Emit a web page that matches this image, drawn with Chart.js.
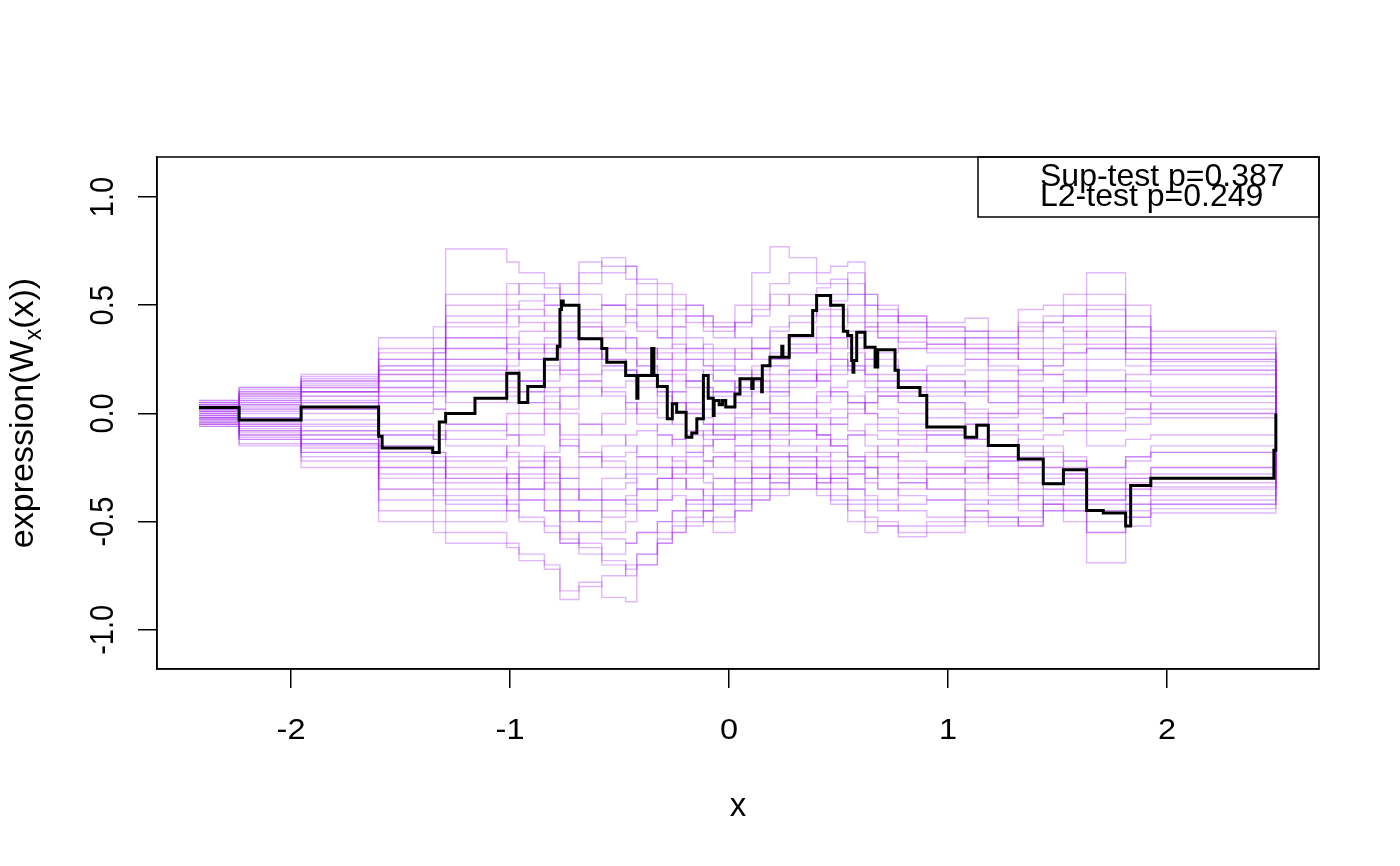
<!DOCTYPE html>
<html>
<head>
<meta charset="utf-8">
<script src="https://cdn.jsdelivr.net/npm/chart.js@4/dist/chart.umd.min.js"></script>
<style>
html,body{margin:0;padding:0;background:#fff;}
#wrap{width:1400px;height:866px;position:relative;}
canvas{display:block;}
</style>
</head>
<body>
<div id="wrap"><canvas id="c" width="1400" height="866"></canvas></div>
<script>
// ---------- data ----------
const X_TICKS = [-2, -1, 0, 1, 2];
const X_TICK_LABELS = ['-2', '-1', '0', '1', '2'];
const Y_TICKS = [-1, -0.5, 0, 0.5, 1];
const Y_TICK_LABELS = ['-1.0', '-0.5', '0.0', '0.5', '1.0'];
const X_TITLE = 'x';
const Y_TITLE_MAIN = 'expression(W';
const Y_TITLE_SUB = 'x';
const Y_TITLE_END = '(x))';
const LEGEND_LINES = ['Sup-test p=0.387', 'L2-test p=0.249'];

// observed process (black step line): jump locations and values
const BLACK_X = [-2.420,-2.237,-1.954,-1.600,-1.584,-1.353,-1.323,-1.294,-1.160,-1.015,-0.959,-0.919,-0.843,-0.784,-0.772,-0.765,-0.757,-0.685,-0.581,-0.558,-0.472,-0.421,-0.416,-0.353,-0.343,-0.327,-0.282,-0.259,-0.239,-0.196,-0.170,-0.147,-0.117,-0.095,-0.072,-0.068,-0.045,-0.030,-0.015,0.027,0.050,0.104,0.110,0.149,0.152,0.187,0.241,0.246,0.275,0.382,0.400,0.464,0.522,0.542,0.560,0.566,0.570,0.583,0.621,0.667,0.679,0.758,0.773,0.872,0.903,1.078,1.131,1.184,1.321,1.435,1.527,1.633,1.709,1.811,1.834,1.926,2.488,2.497];
const BLACK_Y = [0.027,-0.030,0.030,-0.106,-0.160,-0.180,-0.040,0.000,0.070,0.186,0.050,0.125,0.250,0.310,0.480,0.520,0.500,0.345,0.300,0.237,0.175,0.070,0.175,0.300,0.175,0.125,-0.025,0.045,0.006,-0.110,-0.090,-0.025,0.175,0.070,-0.010,0.060,0.040,0.060,0.030,0.090,0.160,0.115,0.160,0.100,0.220,0.260,0.310,0.260,0.360,0.476,0.545,0.500,0.380,0.360,0.245,0.190,0.245,0.375,0.306,0.214,0.294,0.200,0.120,0.083,-0.063,-0.110,-0.055,-0.148,-0.210,-0.325,-0.260,-0.448,-0.460,-0.520,-0.333,-0.300,-0.170,0.000];

// simulated processes (purple): shared jump locations and per-path values
const SIM_X = [-2.420,-2.237,-1.954,-1.600,-1.350,-1.294,-1.015,-0.959,-0.843,-0.772,-0.685,-0.581,-0.472,-0.421,-0.327,-0.259,-0.196,-0.117,-0.072,0.027,0.104,0.187,0.275,0.400,0.464,0.542,0.621,0.679,0.773,0.903,1.078,1.184,1.321,1.435,1.527,1.633,1.811,1.926,2.490];
const SIM_END_X = 2.497;
const SIM_END_Y = 0;
const SIM_01 = [0.05,0.10,0.18,0.35,0.40,0.76,0.70,0.65,0.60,0.55,0.70,0.68,0.62,0.55,0.50,0.45,0.42,0.38,0.35,0.40,0.48,0.55,0.50,0.45,0.48,0.42,0.38,0.35,0.33,0.30,0.28,0.25,0.30,0.35,0.40,0.45,0.35,0.28];
const SIM_02 = [-0.06,-0.15,-0.25,-0.50,-0.55,-0.60,-0.62,-0.68,-0.70,-0.82,-0.78,-0.85,-0.87,-0.70,-0.58,-0.55,-0.52,-0.50,-0.48,-0.42,-0.38,-0.35,-0.30,-0.35,-0.40,-0.45,-0.48,-0.50,-0.52,-0.50,-0.45,-0.48,-0.50,-0.42,-0.45,-0.55,-0.48,-0.42];
const SIM_03 = [0.02,0.05,0.10,0.20,0.22,0.30,0.35,0.32,0.28,0.25,0.40,0.45,0.42,0.38,0.35,0.40,0.45,0.42,0.40,0.50,0.65,0.77,0.72,0.65,0.68,0.70,0.55,0.50,0.45,0.40,0.38,0.35,0.42,0.45,0.50,0.55,0.45,0.35];
const SIM_04 = [-0.03,-0.08,-0.12,-0.20,-0.25,-0.30,-0.28,-0.35,-0.32,-0.40,-0.35,-0.30,-0.28,-0.25,-0.20,-0.22,-0.25,-0.28,-0.30,-0.32,-0.30,-0.28,-0.25,-0.30,-0.35,-0.42,-0.50,-0.52,-0.55,-0.52,-0.48,-0.50,-0.52,-0.45,-0.50,-0.69,-0.52,-0.46];
const SIM_05 = [0.04,0.08,0.12,0.15,0.18,0.25,0.20,0.15,0.10,0.12,0.18,0.22,0.20,0.18,0.15,0.20,0.25,0.22,0.20,0.18,0.22,0.25,0.28,0.30,0.35,0.38,0.40,0.42,0.45,0.42,0.44,0.38,0.48,0.50,0.55,0.65,0.50,0.38];
const SIM_06 = [-0.02,-0.05,-0.10,-0.30,-0.35,-0.40,-0.45,-0.50,-0.55,-0.60,-0.55,-0.58,-0.60,-0.55,-0.50,-0.45,-0.40,-0.42,-0.38,-0.35,-0.30,-0.25,-0.28,-0.32,-0.30,-0.35,-0.38,-0.40,-0.35,-0.30,-0.32,-0.28,-0.25,-0.30,-0.28,-0.35,-0.30,-0.25];
const SIM_07 = [0.06,0.12,0.15,0.30,0.35,0.50,0.55,0.60,0.58,0.50,0.55,0.50,0.48,0.45,0.40,0.35,0.30,0.28,0.25,0.30,0.35,0.40,0.42,0.48,0.52,0.55,0.50,0.45,0.40,0.35,0.30,0.28,0.25,0.22,0.28,0.30,0.25,0.20];
const SIM_08 = [-0.05,-0.10,-0.18,-0.35,-0.40,-0.45,-0.40,-0.35,-0.30,-0.45,-0.50,-0.55,-0.50,-0.45,-0.40,-0.35,-0.30,-0.25,-0.20,-0.15,-0.10,-0.05,-0.08,-0.12,-0.15,-0.20,-0.25,-0.30,-0.28,-0.25,-0.22,-0.30,-0.35,-0.32,-0.30,-0.40,-0.35,-0.30];
const SIM_09 = [0.01,0.03,0.05,0.10,0.12,0.20,0.25,0.30,0.35,0.28,0.30,0.25,0.20,0.18,0.15,0.10,0.05,0.02,0.00,0.05,0.10,0.12,0.15,0.18,0.20,0.22,0.18,0.15,0.12,0.10,0.08,0.05,0.10,0.12,0.15,0.20,0.15,0.12];
const SIM_10 = [-0.01,-0.02,-0.05,-0.08,-0.10,-0.15,-0.20,-0.25,-0.22,-0.30,-0.25,-0.20,-0.18,-0.15,-0.10,-0.12,-0.15,-0.10,-0.08,-0.05,0.00,0.05,0.02,-0.02,-0.05,-0.08,-0.10,-0.12,-0.15,-0.18,-0.20,-0.22,-0.18,-0.15,-0.20,-0.25,-0.22,-0.18];
const SIM_11 = [0.03,0.06,0.10,0.25,0.28,0.40,0.45,0.42,0.38,0.30,0.35,0.40,0.45,0.50,0.45,0.40,0.35,0.30,0.28,0.25,0.30,0.35,0.32,0.28,0.25,0.20,0.15,0.10,0.08,0.05,0.02,0.00,0.05,0.08,0.10,0.12,0.10,0.08];
const SIM_12 = [-0.04,-0.08,-0.15,-0.25,-0.30,-0.20,-0.15,-0.10,-0.05,-0.15,-0.20,-0.25,-0.30,-0.35,-0.30,-0.25,-0.28,-0.32,-0.35,-0.30,-0.25,-0.20,-0.18,-0.15,-0.12,-0.10,-0.05,-0.08,-0.10,-0.15,-0.12,-0.10,-0.15,-0.20,-0.25,-0.30,-0.28,-0.25];
const SIM_13 = [0.02,0.00,0.05,0.00,0.02,0.10,0.08,0.05,0.00,-0.10,-0.05,0.00,0.05,0.02,-0.02,-0.05,-0.10,-0.08,-0.05,0.00,0.05,0.10,0.15,0.20,0.25,0.22,0.18,0.15,0.20,0.22,0.25,0.20,0.18,0.22,0.25,0.30,0.25,0.22];
const SIM_14 = [-0.03,-0.12,-0.20,-0.45,-0.50,-0.55,-0.60,-0.65,-0.72,-0.86,-0.80,-0.75,-0.70,-0.65,-0.60,-0.55,-0.50,-0.45,-0.40,-0.35,-0.30,-0.25,-0.20,-0.25,-0.30,-0.28,-0.25,-0.20,-0.18,-0.15,-0.18,-0.20,-0.25,-0.28,-0.30,-0.35,-0.32,-0.30];
const SIM_15 = [0.05,0.09,0.14,0.20,0.25,0.35,0.40,0.45,0.50,0.55,0.60,0.65,0.68,0.62,0.60,0.55,0.50,0.45,0.42,0.35,0.30,0.25,0.30,0.35,0.40,0.45,0.40,0.35,0.30,0.28,0.25,0.22,0.20,0.18,0.15,0.10,0.12,0.10];
const SIM_16 = [-0.02,-0.06,-0.08,-0.15,-0.18,-0.25,-0.30,-0.35,-0.40,-0.50,-0.45,-0.40,-0.42,-0.45,-0.40,-0.38,-0.42,-0.45,-0.50,-0.45,-0.40,-0.38,-0.35,-0.38,-0.42,-0.50,-0.55,-0.52,-0.57,-0.55,-0.50,-0.52,-0.48,-0.42,-0.40,-0.45,-0.42,-0.38];
const SIM_17 = [0.00,0.02,0.08,0.12,0.15,0.10,0.05,0.10,0.15,0.20,0.15,0.10,0.05,0.00,0.05,0.10,0.15,0.20,0.15,0.10,0.05,0.00,-0.05,-0.10,-0.05,0.00,0.05,0.08,0.10,0.05,0.00,-0.05,-0.08,-0.05,0.00,0.05,0.02,0.00];
const SIM_18 = [-0.05,-0.12,-0.22,-0.35,-0.38,-0.42,-0.35,-0.30,-0.25,-0.35,-0.40,-0.48,-0.45,-0.40,-0.35,-0.30,-0.35,-0.40,-0.35,-0.30,-0.25,-0.20,-0.22,-0.25,-0.30,-0.35,-0.30,-0.25,-0.30,-0.35,-0.40,-0.42,-0.45,-0.40,-0.38,-0.45,-0.42,-0.40];
const SIM_19 = [0.04,0.10,0.15,0.22,0.25,0.45,0.50,0.48,0.45,0.42,0.48,0.50,0.45,0.40,0.35,0.30,0.25,0.22,0.20,0.25,0.30,0.38,0.45,0.50,0.55,0.60,0.50,0.45,0.42,0.38,0.35,0.30,0.35,0.40,0.38,0.35,0.30,0.25];
const SIM_20 = [0.01,-0.03,-0.06,-0.10,-0.12,-0.05,0.00,0.05,0.08,0.00,-0.05,-0.10,-0.15,-0.20,-0.25,-0.20,-0.18,-0.15,-0.12,-0.10,-0.08,-0.05,-0.02,0.00,0.02,0.05,0.00,-0.05,-0.08,-0.10,-0.12,-0.15,-0.12,-0.10,-0.08,-0.15,-0.12,-0.10];
const SIM_21 = [-0.06,-0.14,-0.18,-0.40,-0.45,-0.50,-0.45,-0.40,-0.45,-0.60,-0.65,-0.70,-0.75,-0.70,-0.55,-0.50,-0.45,-0.50,-0.55,-0.45,-0.40,-0.35,-0.30,-0.35,-0.38,-0.40,-0.42,-0.45,-0.42,-0.40,-0.45,-0.48,-0.52,-0.45,-0.42,-0.50,-0.45,-0.42];
const SIM_22 = [0.03,0.07,0.12,0.18,0.20,0.30,0.28,0.25,0.30,0.35,0.45,0.50,0.55,0.50,0.45,0.48,0.50,0.45,0.40,0.42,0.50,0.60,0.65,0.60,0.62,0.55,0.45,0.40,0.38,0.35,0.32,0.30,0.28,0.30,0.35,0.40,0.32,0.28];
const SIM_23 = [-0.01,0.02,0.00,-0.05,-0.08,-0.12,-0.10,-0.15,-0.20,-0.25,-0.20,-0.15,-0.10,-0.08,-0.05,0.00,0.05,0.08,0.10,0.12,0.15,0.18,0.20,0.15,0.10,0.05,0.00,-0.02,-0.05,-0.08,-0.05,-0.02,0.00,0.05,0.08,0.10,0.05,0.02];
const SIM_24 = [0.02,0.04,0.06,0.08,0.10,0.05,0.10,0.15,0.12,0.08,0.15,0.20,0.25,0.22,0.18,0.15,0.12,0.10,0.08,0.05,0.02,0.00,0.05,0.10,0.08,0.05,0.10,0.12,0.15,0.18,0.20,0.15,0.12,0.10,0.05,0.00,0.02,0.05];
const SIM_25 = [-0.04,-0.09,-0.14,-0.18,-0.20,-0.30,-0.35,-0.40,-0.45,-0.55,-0.60,-0.65,-0.60,-0.55,-0.50,-0.45,-0.40,-0.35,-0.30,-0.25,-0.20,-0.15,-0.12,-0.10,-0.15,-0.20,-0.18,-0.15,-0.12,-0.10,-0.15,-0.20,-0.22,-0.25,-0.28,-0.32,-0.30,-0.28];
const SIM_26 = [0.06,0.11,0.17,0.28,0.30,0.55,0.60,0.55,0.50,0.45,0.40,0.35,0.30,0.28,0.25,0.20,0.15,0.12,0.10,0.08,0.12,0.15,0.20,0.25,0.30,0.35,0.30,0.25,0.20,0.15,0.10,0.05,0.08,0.10,0.12,0.15,0.18,0.20];
const SIM_27 = [-0.02,-0.04,-0.03,-0.10,-0.12,-0.08,-0.05,0.00,-0.05,-0.15,-0.10,-0.05,0.00,0.05,0.10,0.05,0.00,-0.05,-0.10,-0.15,-0.12,-0.08,-0.05,-0.10,-0.15,-0.10,-0.15,-0.20,-0.25,-0.28,-0.25,-0.30,-0.28,-0.25,-0.22,-0.28,-0.20,-0.15];
const SIM_28 = [0.03,0.01,0.02,0.05,0.08,0.15,0.12,0.20,0.25,0.20,0.25,0.30,0.35,0.30,0.25,0.28,0.30,0.32,0.30,0.28,0.25,0.22,0.18,0.15,0.18,0.20,0.25,0.28,0.30,0.32,0.35,0.32,0.38,0.42,0.45,0.50,0.40,0.30];
const SIM_29 = [-0.03,-0.07,-0.10,-0.22,-0.25,-0.35,-0.30,-0.25,-0.20,-0.30,-0.35,-0.40,-0.38,-0.35,-0.30,-0.28,-0.25,-0.22,-0.20,-0.18,-0.15,-0.18,-0.20,-0.22,-0.25,-0.22,-0.20,-0.18,-0.22,-0.25,-0.28,-0.35,-0.38,-0.42,-0.45,-0.55,-0.48,-0.44];
const SIM_30 = [0.00,0.05,0.10,0.15,0.18,0.22,0.18,0.15,0.20,0.25,0.30,0.25,0.20,0.15,0.10,0.05,0.00,-0.05,-0.10,-0.08,-0.05,-0.02,0.00,0.05,0.10,0.08,0.05,0.02,0.00,-0.02,-0.05,-0.08,-0.05,-0.02,0.00,-0.05,-0.02,0.00];
const SIM_31 = [0.03,0.06,0.08,0.12,0.15,0.20,0.22,0.28,0.32,0.38,0.42,0.38,0.35,0.30,0.28,0.25,0.20,0.18,0.15,0.12,0.18,0.22,0.28,0.32,0.35,0.30,0.25,0.22,0.18,0.15,0.12,0.10,0.15,0.18,0.20,0.25,0.22,0.18];
const SIM_32 = [-0.02,-0.06,-0.12,-0.15,-0.18,-0.22,-0.18,-0.20,-0.28,-0.35,-0.40,-0.35,-0.32,-0.28,-0.25,-0.30,-0.35,-0.38,-0.42,-0.40,-0.35,-0.30,-0.25,-0.20,-0.18,-0.22,-0.25,-0.28,-0.32,-0.35,-0.30,-0.28,-0.32,-0.35,-0.38,-0.42,-0.38,-0.35];
const SIM_33 = [0.01,0.04,0.02,0.08,0.10,0.18,0.15,0.10,0.05,0.02,0.08,0.12,0.15,0.12,0.08,0.05,0.02,-0.02,-0.05,-0.02,0.02,0.08,0.12,0.18,0.22,0.28,0.22,0.18,0.15,0.12,0.15,0.12,0.08,0.05,0.10,0.15,0.10,0.08];
const SIM_34 = [-0.05,-0.11,-0.16,-0.28,-0.32,-0.38,-0.42,-0.48,-0.52,-0.58,-0.62,-0.68,-0.72,-0.65,-0.60,-0.52,-0.48,-0.45,-0.42,-0.38,-0.35,-0.32,-0.28,-0.30,-0.32,-0.35,-0.40,-0.42,-0.45,-0.48,-0.42,-0.40,-0.38,-0.35,-0.32,-0.38,-0.35,-0.32];
const SIM_35 = [0.05,0.12,0.16,0.25,0.30,0.42,0.48,0.52,0.55,0.60,0.65,0.72,0.68,0.60,0.55,0.50,0.45,0.40,0.38,0.42,0.45,0.50,0.55,0.58,0.60,0.65,0.55,0.48,0.42,0.40,0.38,0.35,0.40,0.42,0.45,0.48,0.40,0.32];
const SIM_36 = [0.00,-0.02,0.02,0.05,0.02,-0.05,-0.10,-0.05,0.02,0.08,0.12,0.08,0.02,-0.05,-0.10,-0.15,-0.18,-0.22,-0.25,-0.20,-0.15,-0.10,-0.08,-0.05,-0.02,0.02,0.05,0.08,0.05,0.02,-0.02,0.00,0.02,-0.02,-0.05,-0.08,-0.05,-0.02];
const SIM_37 = [-0.04,-0.10,-0.14,-0.25,-0.28,-0.32,-0.28,-0.22,-0.18,-0.12,-0.18,-0.22,-0.25,-0.20,-0.15,-0.12,-0.08,-0.12,-0.18,-0.22,-0.28,-0.32,-0.35,-0.32,-0.28,-0.25,-0.30,-0.35,-0.38,-0.40,-0.35,-0.38,-0.42,-0.38,-0.35,-0.40,-0.38,-0.34];
const SIM_38 = [0.02,0.08,0.13,0.22,0.28,0.35,0.30,0.25,0.22,0.18,0.25,0.30,0.28,0.22,0.20,0.18,0.15,0.12,0.10,0.15,0.20,0.28,0.35,0.40,0.45,0.50,0.42,0.38,0.35,0.32,0.30,0.28,0.25,0.28,0.32,0.38,0.30,0.25];
const SIM_39 = [-0.01,-0.05,-0.08,-0.18,-0.22,-0.28,-0.32,-0.28,-0.35,-0.45,-0.50,-0.45,-0.40,-0.35,-0.30,-0.25,-0.20,-0.15,-0.12,-0.10,-0.08,-0.12,-0.15,-0.18,-0.22,-0.28,-0.32,-0.35,-0.32,-0.28,-0.25,-0.22,-0.20,-0.18,-0.22,-0.25,-0.20,-0.18];
const SIM_40 = [0.04,0.09,0.10,0.18,0.20,0.25,0.32,0.38,0.42,0.35,0.28,0.22,0.18,0.25,0.30,0.32,0.28,0.25,0.22,0.20,0.15,0.10,0.05,0.08,0.12,0.15,0.12,0.08,0.05,0.08,0.10,0.15,0.20,0.25,0.28,0.32,0.28,0.24];

const SIMS = [SIM_01,SIM_02,SIM_03,SIM_04,SIM_05,SIM_06,SIM_07,SIM_08,SIM_09,SIM_10,
              SIM_11,SIM_12,SIM_13,SIM_14,SIM_15,SIM_16,SIM_17,SIM_18,SIM_19,SIM_20,
              SIM_21,SIM_22,SIM_23,SIM_24,SIM_25,SIM_26,SIM_27,SIM_28,SIM_29,SIM_30,
              SIM_31,SIM_32,SIM_33,SIM_34,SIM_35,SIM_36,SIM_37,SIM_38,SIM_39,SIM_40];

// ---------- build datasets ----------
function simPoints(vals) {
  const pts = [];
  const n = Math.min(vals.length, SIM_X.length - 1);
  for (let i = 0; i < n; i++) pts.push({x: SIM_X[i], y: vals[i]});
  pts.push({x: SIM_X[n], y: vals[n - 1]});
  pts.push({x: SIM_END_X, y: SIM_END_Y});
  return pts;
}
const blackPts = BLACK_X.map((x, i) => ({x: x, y: BLACK_Y[i]}));

const datasets = [{
  label: 'observed',
  data: blackPts,
  borderColor: '#000000',
  borderWidth: 3,
  stepped: 'before',
  pointRadius: 0,
  fill: false
}];
SIMS.forEach((s, k) => datasets.push({
  label: 'sim' + (k + 1),
  data: simPoints(s),
  borderColor: 'rgba(160,32,240,0.32)',
  borderWidth: 1.4,
  stepped: 'before',
  pointRadius: 0,
  fill: false
}));

const FONT = '"Liberation Sans", Arial, Helvetica, sans-serif';

// draws box, tick labels, titles and legend using the chart's own scales
const rDecor = {
  id: 'rDecor',
  afterDraw(chart) {
    const ctx = chart.ctx, a = chart.chartArea;
    const xs = chart.scales.x, ys = chart.scales.y;
    ctx.save();
    ctx.strokeStyle = '#000';
    ctx.lineWidth = 1.5;
    ctx.strokeRect(a.left, a.top, a.right - a.left, a.bottom - a.top);
    ctx.fillStyle = '#000';

    // x tick labels
    ctx.font = '29px ' + FONT;
    ctx.textAlign = 'center';
    ctx.textBaseline = 'alphabetic';
    xs.ticks.forEach(t => {
      const px = xs.getPixelForValue(t.value);
      ctx.save(); ctx.translate(px, 739); ctx.scale(1.12, 1);
      ctx.fillText(X_TICK_LABELS[X_TICKS.indexOf(t.value)], 0, 0);
      ctx.restore();
    });
    // y tick labels (rotated like R's las=0)
    ys.ticks.forEach(t => {
      const py = ys.getPixelForValue(t.value);
      ctx.save(); ctx.translate(113, py); ctx.rotate(-Math.PI / 2); ctx.scale(1, 1.12);
      ctx.fillText(Y_TICK_LABELS[Y_TICKS.indexOf(t.value)], 0, 0);
      ctx.restore();
    });

    // x title
    ctx.font = '33px ' + FONT;
    ctx.fillText(X_TITLE, (a.left + a.right) / 2, 816);

    // y title with subscript
    const big = '34px ' + FONT, small = '23px ' + FONT;
    const parts = [[Y_TITLE_MAIN, big, 0], [Y_TITLE_SUB, small, 8], [Y_TITLE_END, big, 0]];
    let total = 0;
    parts.forEach(p => { ctx.font = p[1]; p.w = ctx.measureText(p[0]).width; total += p.w; });
    ctx.save();
    ctx.translate(33, (a.top + a.bottom) / 2);
    ctx.rotate(-Math.PI / 2);
    ctx.textAlign = 'left';
    let x = -total / 2;
    parts.forEach(p => { ctx.font = p[1]; ctx.fillText(p[0], x, p[2]); x += p.w; });
    ctx.restore();

    // legend box (top-right, like R legend("topright"))
    ctx.lineWidth = 1.5;
    ctx.strokeRect(978, a.top, a.right - 978, 60);
    ctx.font = '32px ' + FONT;
    ctx.textAlign = 'left';
    ctx.textBaseline = 'middle';
    ctx.fillText(LEGEND_LINES[0], 1040, a.top + 20);
    ctx.fillText(LEGEND_LINES[1], 1040, a.top + 40);
    ctx.restore();
  }
};

new Chart(document.getElementById('c'), {
  type: 'line',
  data: {datasets: datasets},
  options: {
    responsive: false,
    devicePixelRatio: 1,
    animation: false,
    events: [],
    layout: {padding: {top: 157, right: 81, left: 0, bottom: 0}},
    plugins: {legend: {display: false}, tooltip: {enabled: false}, title: {display: false}},
    elements: {line: {tension: 0}},
    scales: {
      x: {
        type: 'linear',
        min: -2.612, max: 2.694,
        afterBuildTicks: s => { s.ticks = X_TICKS.map(v => ({value: v})); },
        afterFit: s => { s.height = 197; },
        ticks: {display: false},
        grid: {drawOnChartArea: false, drawTicks: true, tickLength: 19, color: '#000', lineWidth: 1.5},
        border: {display: true, color: '#000', width: 1.5}
      },
      y: {
        type: 'linear',
        min: -1.181, max: 1.185,
        afterBuildTicks: s => { s.ticks = Y_TICKS.map(v => ({value: v})); },
        afterFit: s => { s.width = 157; },
        ticks: {display: false},
        grid: {drawOnChartArea: false, drawTicks: true, tickLength: 19, color: '#000', lineWidth: 1.5},
        border: {display: true, color: '#000', width: 1.5}
      }
    }
  },
  plugins: [rDecor]
});
</script>
</body>
</html>
